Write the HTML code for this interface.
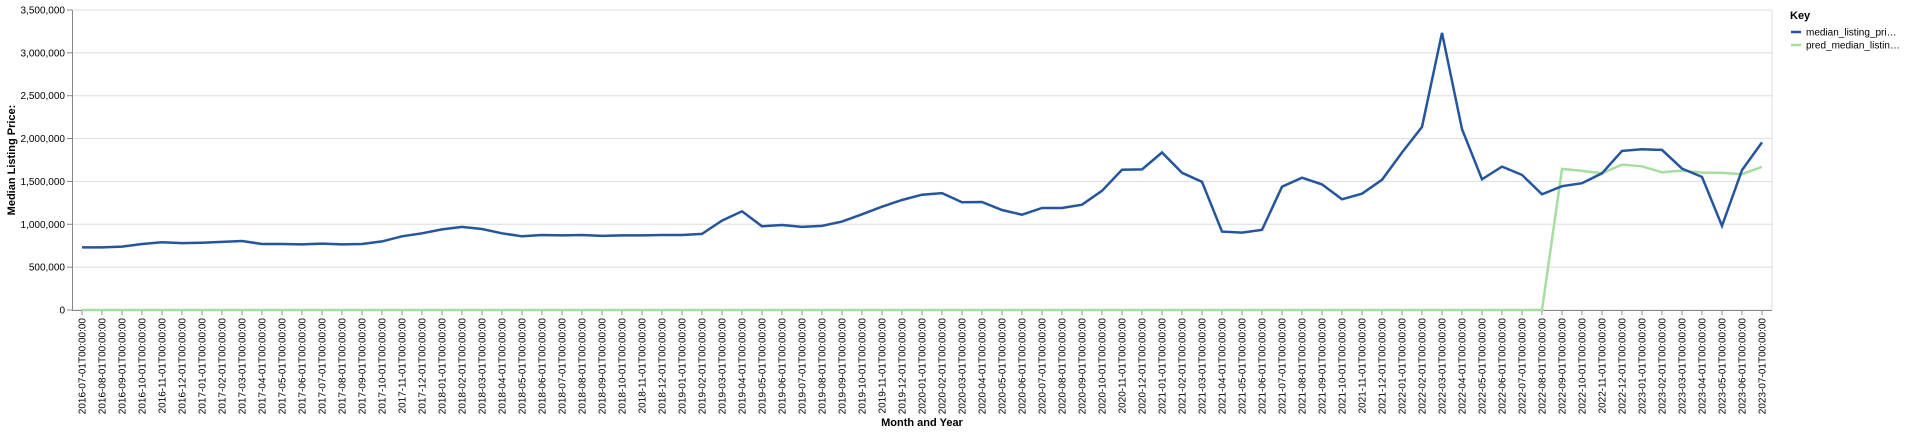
<!DOCTYPE html>
<html><head><meta charset="utf-8"><style>
html,body{margin:0;padding:0;background:#fff;}
svg{display:block;font-family:"Liberation Sans",Arial,sans-serif;}
</style></head><body>
<svg id="chart" width="1928" height="434" viewBox="0 0 1928 434"></svg>
<script>
const months = [];
for (let y = 2016, m = 7; !(y === 2023 && m > 7); m++) { if (m > 12) { m = 1; y++; } months.push(y + '-' + String(m).padStart(2, '0') + '-01T00:00:00'); }
const actualValues = [730000,730000,740000,770000,790000,780000,785000,795000,805000,770000,770000,765000,775000,765000,770000,800000,860000,895000,940000,970000,945000,895000,860000,875000,870000,875000,865000,870000,870000,875000,875000,888000,1043000,1151000,977000,992000,969000,981000,1031000,1116000,1205000,1283000,1345000,1364000,1256000,1260000,1167000,1112000,1190000,1190000,1229000,1391000,1636000,1640000,1837000,1601000,1496000,915000,903000,934000,1438000,1543000,1465000,1291000,1357000,1519000,1837000,2136000,3233000,2110000,1525000,1673000,1576000,1350000,1444000,1479000,1595000,1856000,1875000,1868000,1650000,1553000,981000,1632000,1955000];
const predValues = [];
for (let i = 0; i < 74; i++) predValues.push(0);
predValues.push(1646000,1623000,1595000,1696000,1677000,1607000,1626000,1603000,1599000,1584000,1671000);
const yTicks = [0,500000,1000000,1500000,2000000,2500000,3000000,3500000];
const seriesNames = ['median_listing_pri…','pred_median_listin…'];

const NS = 'http://www.w3.org/2000/svg';
const svg = document.getElementById('chart');
const L = 72, R = 1772, T = 10, B = 310;
const step = (R - L) / months.length;
const xS = i => L + step * (i + 0.5);
const yS = v => B - (v / 3500000) * (B - T);
function mk(tag, attrs, parent) { const e = document.createElementNS(NS, tag); for (const k in attrs) e.setAttribute(k, attrs[k]); (parent || svg).appendChild(e); return e; }

const grid = mk('g', {});


yTicks.forEach(v => {
  const gl = mk('line', {x1: L, x2: R, y1: yS(v), y2: yS(v), stroke: '#ddd', 'stroke-width': 1}, grid);
  
  
  const tk = mk('line', {x1: L - 5, x2: L, y1: yS(v), y2: yS(v), stroke: '#888'});
  
  
  const t = mk('text', {x: L - 7, y: yS(v) + 3.5, 'text-anchor': 'end', 'font-size': 10, fill: '#000'});
  t.textContent = v.toLocaleString('en-US');
  
  
});
const rb = mk('line', {x1: R, x2: R, y1: T, y2: B, stroke: '#ddd'});


const ya = mk('line', {x1: L + 0.5, x2: L + 0.5, y1: T, y2: B, stroke: '#888'});


const xa = mk('line', {x1: L, x2: R, y1: B + 0.5, y2: B + 0.5, stroke: '#888'});



months.forEach((m, i) => {
  const x = xS(i);
  const tk = mk('line', {x1: x, x2: x, y1: B, y2: B + 5, stroke: '#888'});
  
  
  const t = mk('text', {transform: 'translate(' + (x + 3.5) + ',' + (B + 8) + ') rotate(-90)', 'text-anchor': 'end', 'font-size': 10, fill: '#000'});
  t.textContent = m;
  
  
});

function line(vals, color, name) {
  const p = mk('path', {d: vals.map((v, i) => (i ? 'L' : 'M') + xS(i).toFixed(1) + ',' + yS(v).toFixed(1)).join(''), fill: 'none', stroke: color, 'stroke-width': 2.5, 'stroke-linejoin': 'miter'});
  
  
}
line(predValues, '#a6dea0', 'pred-median-listing-price-line');
line(actualValues, '#24559d', 'median-listing-price-line');

const yt = mk('text', {transform: 'translate(15,160) rotate(-90)', 'text-anchor': 'middle', 'font-size': 11, 'font-weight': 'bold'});
yt.textContent = 'Median Listing Price:';


const xt = mk('text', {x: (L + R) / 2, y: 426, 'text-anchor': 'middle', 'font-size': 11, 'font-weight': 'bold'});
xt.textContent = 'Month and Year';



const lg = mk('g', {});


const kt = mk('text', {x: 1790, y: 19, 'font-size': 11, 'font-weight': 'bold'}, lg);
kt.textContent = 'Key';


['#24559d', '#a6dea0'].forEach((c, i) => {
  const g = mk('g', {}, lg);
  
  
  const yy = 32 + i * 13;
  mk('line', {x1: 1791, x2: 1801, y1: yy, y2: yy, stroke: c, 'stroke-width': 2.5}, g);
  const t = mk('text', {x: 1806, y: yy + 3.5, 'font-size': 10, fill: '#000'}, g);
  t.textContent = seriesNames[i];
  
  
});
</script>
</body></html>
